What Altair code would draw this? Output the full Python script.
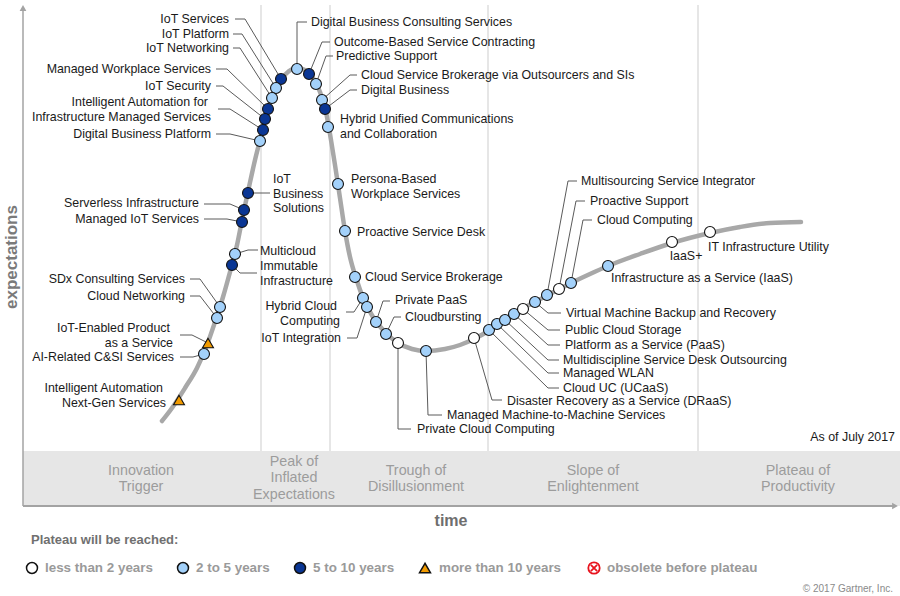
import altair as alt
import pandas as pd

W, H = 900, 596
FONT = "Liberation Sans, Arial, Helvetica, sans-serif"

# ---------------- data: technologies on the curve ----------------
tech_names = [
    "IoT Services", "IoT Platform", "IoT Networking", "Managed Workplace Services",
    "IoT Security", "Intelligent Automation for Infrastructure Managed Services",
    "Digital Business Platform", "Digital Business Consulting Services",
    "Outcome-Based Service Contracting", "Predictive Support",
    "Cloud Service Brokerage via Outsourcers and SIs", "Digital Business",
    "Hybrid Unified Communications and Collaboration", "IoT Business Solutions",
    "Serverless Infrastructure", "Managed IoT Services", "Multicloud",
    "Immutable Infrastructure", "SDx Consulting Services", "Cloud Networking",
    "IoT-Enabled Product as a Service", "AI-Related C&SI Services",
    "Intelligent Automation Next-Gen Services", "Persona-Based Workplace Services",
    "Proactive Service Desk", "Cloud Service Brokerage", "Hybrid Cloud Computing",
    "IoT Integration", "Private PaaS", "Cloudbursting", "Private Cloud Computing",
    "Managed Machine-to-Machine Services", "Disaster Recovery as a Service (DRaaS)",
    "Cloud UC (UCaaS)", "Managed WLAN", "Multidiscipline Service Desk Outsourcing",
    "Platform as a Service (PaaS)", "Public Cloud Storage",
    "Virtual Machine Backup and Recovery", "Multisourcing Service Integrator",
    "Proactive Support", "Cloud Computing", "Infrastructure as a Service (IaaS)",
    "IaaS+", "IT Infrastructure Utility",
]
tech_time = [281, 276, 272, 268, 265, 263, 260, 297, 309, 316, 322, 325, 328, 248,
             244, 242, 235, 232, 220, 217, 208, 204, 179, 338, 345, 355, 363, 367,
             376, 386, 398, 426, 474, 489, 497, 505, 514, 523, 535, 547, 559, 571,
             608, 672, 710]
tech_expect = [79, 88, 98, 109, 119, 130, 141, 69, 74, 84, 100, 109, 127, 193,
               210, 222, 254, 265, 307, 318, 343, 354, 400, 184, 231, 277, 298, 307,
               322, 334, 343, 351, 338, 330, 324, 320, 314, 309, 302, 295, 289, 283,
               266, 242, 232]
tech_class = ["5-10", "2-5", "2-5", "5-10", "5-10", "5-10", "2-5", "2-5", "5-10", "2-5",
              "2-5", "5-10", "2-5", "5-10", "5-10", "5-10", "2-5", "5-10", "2-5", "2-5",
              ">10", "2-5", ">10", "2-5", "2-5", "2-5", "2-5", "2-5", "2-5", "2-5",
              "<2", "2-5", "<2", "2-5", "2-5", "2-5", "2-5", "<2", "2-5", "2-5",
              "<2", "2-5", "2-5", "<2", "<2"]

# ---------------- hype curve ----------------
curve_time = [162, 172, 185, 197, 207, 215, 223, 230, 237, 243, 249, 255, 260, 266,
              273, 281, 289, 297, 305, 313, 320, 326, 331, 335, 340, 345, 350, 356,
              364, 373, 384, 398, 412, 426, 445, 460, 474, 490, 505, 520, 535, 550,
              571, 590, 608, 640, 672, 710, 740, 770, 801]
curve_expect = [421, 408, 388, 368, 345, 322, 297, 272, 245, 215, 187, 160, 140, 115,
                95, 80, 71, 68, 70, 78, 92, 112, 140, 165, 198, 231, 257, 278,
                300, 317, 331, 343, 349, 351, 349, 345, 339, 330, 320, 310, 302, 294,
                283, 274, 266, 254, 243, 233, 227, 223, 222]

# ---------------- label lines ----------------
label_text = [
    "IoT Services", "IoT Platform", "IoT Networking", "Managed Workplace Services",
    "IoT Security", "Intelligent Automation for", "Infrastructure Managed Services",
    "Digital Business Platform", "Digital Business Consulting Services",
    "Outcome-Based Service Contracting", "Predictive Support",
    "Cloud Service Brokerage via Outsourcers and SIs", "Digital Business",
    "Hybrid Unified Communications", "and Collaboration", "IoT", "Business", "Solutions",
    "Serverless Infrastructure", "Managed IoT Services", "Multicloud", "Immutable",
    "Infrastructure", "SDx Consulting Services", "Cloud Networking",
    "IoT-Enabled Product", "as a Service", "AI-Related C&SI Services",
    "Intelligent Automation", "Next-Gen Services", "Persona-Based", "Workplace Services",
    "Proactive Service Desk", "Cloud Service Brokerage", "Hybrid Cloud", "Computing",
    "IoT Integration", "Private PaaS", "Cloudbursting", "Private Cloud Computing",
    "Managed Machine-to-Machine Services", "Disaster Recovery as a Service (DRaaS)",
    "Cloud UC (UCaaS)", "Managed WLAN", "Multidiscipline Service Desk Outsourcing",
    "Platform as a Service (PaaS)", "Public Cloud Storage",
    "Virtual Machine Backup and Recovery", "Multisourcing Service Integrator",
    "Proactive Support", "Cloud Computing", "Infrastructure as a Service (IaaS)",
    "IaaS+", "IT Infrastructure Utility", "As of July 2017",
]
label_x = [229, 229, 229, 211, 211, 208, 211, 211, 311, 334, 336, 361, 361, 340, 340,
           273, 273, 273, 199, 199, 260, 260, 260, 185, 185, 170, 173, 174, 163, 166,
           351, 351, 357, 365, 337, 340, 341, 395, 405, 417, 447, 507, 563, 563, 563,
           565, 565, 566, 581, 590, 597, 611, 686, 708, 895]
label_y = [19, 34, 48, 69, 86, 102, 117, 134, 22, 42, 56, 75, 90, 119, 134,
           179, 194, 208, 203, 219, 251, 266, 281, 279, 296, 328, 343, 357, 388, 403,
           179, 194, 232, 277, 306, 321, 338, 300, 317, 429, 415, 401, 388, 373, 360,
           345, 330, 313, 181, 201, 220, 278, 256, 247, 437]
label_align = ["right"] * 8 + ["left"] * 10 + ["right"] * 2 + ["left"] * 3 + \
              ["right"] * 7 + ["left"] * 4 + ["right"] * 3 + ["left"] * 15 + \
              ["center", "left", "right"]

# ---------------- leader lines (dot -> elbow -> label) ----------------
leaders = [
    [(281, 79), (245, 19), (235, 19)],
    [(276, 88), (242, 34), (233, 34)],
    [(272, 98), (240, 48), (233, 48)],
    [(268, 109), (227, 69), (216, 69)],
    [(265, 119), (223, 86), (216, 86)],
    [(263, 130), (230, 109), (218, 109)],
    [(260, 141), (230, 134), (216, 134)],
    [(297, 69), (297, 22), (307, 22)],
    [(309, 74), (322, 42), (330, 42)],
    [(316, 84), (326, 56), (333, 56)],
    [(322, 100), (350, 75), (357, 75)],
    [(325, 109), (350, 90), (357, 90)],
    [(248, 193), (270, 193)],
    [(244, 210), (230, 204), (204, 204)],
    [(242, 222), (227, 219), (204, 219)],
    [(235, 254), (248, 250), (258, 250)],
    [(232, 265), (240, 273), (257, 273)],
    [(220, 307), (200, 279), (190, 279)],
    [(217, 318), (200, 296), (190, 296)],
    [(208, 343), (192, 335), (180, 335)],
    [(204, 354), (193, 357), (180, 357)],
    [(363, 298), (354, 312), (346, 312)],
    [(367, 307), (357, 338), (347, 338)],
    [(376, 322), (383, 301), (390, 301)],
    [(386, 334), (394, 317), (401, 317)],
    [(398, 343), (398, 429), (411, 429)],
    [(426, 351), (428, 415), (442, 415)],
    [(474, 338), (492, 400), (502, 400)],
    [(489, 330), (548, 388), (559, 388)],
    [(497, 324), (548, 373), (559, 373)],
    [(505, 320), (548, 360), (559, 360)],
    [(514, 314), (548, 345), (560, 345)],
    [(523, 309), (548, 330), (560, 330)],
    [(535, 302), (548, 313), (561, 313)],
    [(547, 295), (568, 181), (577, 181)],
    [(559, 289), (576, 201), (585, 201)],
    [(571, 283), (583, 220), (592, 220)],
]

# ---------------- phases ----------------
phase_bounds = [261, 330, 488, 698]
phase_lines = ["Innovation", "Trigger", "Peak of", "Inflated", "Expectations",
               "Trough of", "Disillusionment", "Slope of", "Enlightenment",
               "Plateau of", "Productivity"]
phase_cx = [141, 141, 294, 294, 294, 416, 416, 593, 593, 798, 798]
phase_cy = [471, 487, 462, 478, 495, 471, 487, 471, 487, 471, 487]

# ---------------- legend ----------------
legend_classes = ["<2", "2-5", "5-10", ">10"]
legend_labels = ["less than 2 years", "2 to 5 years", "5 to 10 years",
                 "more than 10 years", "obsolete before plateau"]
legend_icon_x = [32, 183, 300, 425, 594]
legend_text_x = [45, 196, 313, 439, 607]
LEG_Y = 568

class_domain = ["<2", "2-5", "5-10", ">10"]
class_fill = ["#ffffff", "#a3d1fa", "#0a3694", "#f29b00"]
class_shape = ["circle", "circle", "circle", "triangle-up"]
class_size = [120, 120, 120, 210]

# ---------------- build tables ----------------
tech = pd.DataFrame({"name": tech_names, "t": tech_time, "e": tech_expect, "cls": tech_class})
curve = pd.DataFrame({"t": curve_time, "e": curve_expect})
labels = pd.DataFrame({"text": label_text, "t": label_x, "e": label_y, "align": label_align})
seg_rows = []
for pts in leaders:
    for (a, b) in zip(pts[:-1], pts[1:]):
        seg_rows.append({"t": a[0], "e": a[1], "t2": b[0], "e2": b[1]})
segs = pd.DataFrame(seg_rows)
phases = pd.DataFrame({"text": phase_lines, "t": phase_cx, "e": phase_cy})
bounds = pd.DataFrame({"t": phase_bounds, "e": [5] * 4, "e2": [451] * 4})
leg_icons = pd.DataFrame({"t": legend_icon_x[:4], "e": [LEG_Y] * 4, "cls": legend_classes})
leg_text = pd.DataFrame({"text": legend_labels, "t": legend_text_x, "e": [LEG_Y] * 5})

xs = alt.Scale(domain=[0, W], nice=False, zero=False)
ys = alt.Scale(domain=[0, H], nice=False, zero=False, reverse=True)


def X(f="t"):
    return alt.X(f, type="quantitative", scale=xs, axis=None)


def Y(f="e"):
    return alt.Y(f, type="quantitative", scale=ys, axis=None)


fill_enc = alt.Fill("cls:N", scale=alt.Scale(domain=class_domain, range=class_fill), legend=None)
shape_enc = alt.Shape("cls:N", scale=alt.Scale(domain=class_domain, range=class_shape), legend=None)
size_enc = alt.Size("cls:N", scale=alt.Scale(domain=class_domain, range=class_size), legend=None)

one = pd.DataFrame({"t": [23], "e": [451], "t2": [900], "e2": [506]})
band = alt.Chart(one).mark_rect(color="#e6e6e6").encode(X(), Y(), x2="t2", y2="e2")

bound_rules = alt.Chart(bounds).mark_rule(color="#cdcdcd", strokeWidth=1).encode(X(), Y(), y2="e2")

yaxis = alt.Chart(pd.DataFrame({"t": [23], "e": [8], "e2": [506]})).mark_rule(
    color="#a3a3a3", strokeWidth=1.5).encode(X(), Y(), y2="e2")
xaxis = alt.Chart(pd.DataFrame({"t": [23], "t2": [894], "e": [506]})).mark_rule(
    color="#a3a3a3", strokeWidth=2).encode(X(), Y(), x2="t2")
arrow_up = alt.Chart(pd.DataFrame({"t": [23], "e": [8]})).mark_point(
    shape="triangle-up", filled=True, color="#a3a3a3", size=45, opacity=1).encode(X(), Y())
arrow_right = alt.Chart(pd.DataFrame({"t": [895], "e": [506]})).mark_point(
    shape="triangle-right", filled=True, color="#a3a3a3", size=45, opacity=1).encode(X(), Y())

curve_line = alt.Chart(curve).mark_line(
    interpolate="monotone", color="#a8a8a8", strokeWidth=4.5, strokeCap="round").encode(
    X(), Y(), order="t:Q")

leader_rules = alt.Chart(segs).mark_rule(color="#5a5a5a", strokeWidth=1).encode(
    X(), Y(), x2="t2", y2="e2")

dots = alt.Chart(tech).mark_point(
    filled=True, stroke="#111111", strokeWidth=1.1, opacity=1).encode(
    X(), Y(), fill=fill_enc, shape=shape_enc, size=size_enc, tooltip="name:N")


def label_layer(al):
    return alt.Chart(labels).transform_filter(alt.datum.align == al).mark_text(
        align=al, baseline="middle", font=FONT, fontSize=12.4, color="#1a1a1a").encode(
        X(), Y(), text="text:N")


phase_text = alt.Chart(phases).mark_text(
    align="center", baseline="middle", font=FONT, fontSize=14.3, color="#9c9c9c").encode(
    X(), Y(), text="text:N")

single = lambda t, x, y: pd.DataFrame({"text": [t], "t": [x], "e": [y]})

time_title = alt.Chart(single("time", 451, 521)).mark_text(
    align="center", baseline="middle", font=FONT, fontSize=16, fontWeight="bold",
    color="#6e6e6e").encode(X(), Y(), text="text:N")
exp_title = alt.Chart(single("expectations", 12, 257)).mark_text(
    align="center", baseline="middle", font=FONT, fontSize=17, fontWeight="bold",
    color="#7a7a7a", angle=270).encode(X(), Y(), text="text:N")
legend_title = alt.Chart(single("Plateau will be reached:", 31, 540)).mark_text(
    align="left", baseline="middle", font=FONT, fontSize=13, fontWeight="bold",
    color="#707070").encode(X(), Y(), text="text:N")

legend_icons = alt.Chart(leg_icons).mark_point(
    filled=True, stroke="#111111", strokeWidth=1.5, opacity=1).encode(
    X(), Y(), fill=fill_enc, shape=shape_enc,
    size=alt.Size("cls:N", scale=alt.Scale(domain=class_domain, range=[135, 135, 135, 210]),
                  legend=None))
obs_df = pd.DataFrame({"t": [594], "e": [LEG_Y]})
obs_circle = alt.Chart(obs_df).mark_point(
    shape="circle", filled=False, stroke="#e8141e", strokeWidth=1.8, size=130, opacity=1).encode(X(), Y())
obs_cross = alt.Chart(obs_df).mark_point(
    shape="M-0.6,-0.6L0.6,0.6M-0.6,0.6L0.6,-0.6", filled=False, stroke="#e8141e",
    strokeWidth=1.8, size=110, opacity=1).encode(X(), Y())
legend_texts = alt.Chart(leg_text).mark_text(
    align="left", baseline="middle", font=FONT, fontSize=13.4, fontWeight="bold",
    color="#9a9a9a").encode(X(), Y(), text="text:N")

copyright_t = alt.Chart(single("© 2017 Gartner, Inc.", 893, 589)).mark_text(
    align="right", baseline="middle", font=FONT, fontSize=10, color="#8a8a8a").encode(
    X(), Y(), text="text:N")

chart = alt.layer(
    band, bound_rules, yaxis, xaxis, arrow_up, arrow_right, curve_line, leader_rules,
    dots, label_layer("left"), label_layer("right"), label_layer("center"),
    phase_text, time_title, exp_title, legend_title, legend_icons, obs_circle, obs_cross,
    legend_texts, copyright_t,
).properties(
    width=W, height=H, padding=0, autosize=alt.AutoSizeParams(type="none"),
    background="#ffffff",
).configure_view(stroke=None)

chart.save("out.html", embed_options={"renderer": "svg", "actions": False})
